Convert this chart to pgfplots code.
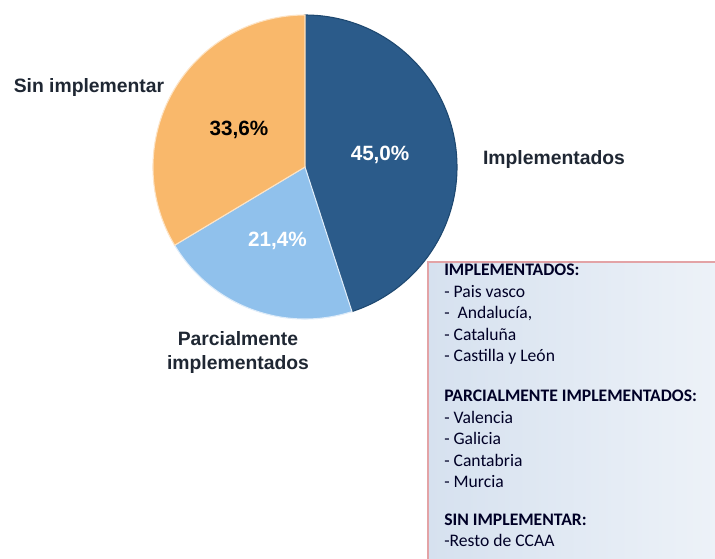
\documentclass[border=0pt]{standalone}
\usepackage{pgfplots}
\pgfplotsset{compat=1.18}
\usepackage{pgfplotstable}
\usetikzlibrary{calc}
\usepackage{fontspec}
\setmainfont{Liberation Sans}
\newfontfamily\calib{Carlito}
\definecolor{dblue}{HTML}{2B5B8A}
\definecolor{dblueedge}{HTML}{1E4870}
\definecolor{lblue}{HTML}{90C1EC}
\definecolor{orng}{HTML}{F9B86B}
\definecolor{lbltxt}{HTML}{1F2733}
\definecolor{boxleft}{HTML}{D6E1EF}
\definecolor{boxright}{HTML}{EDF2F8}
\definecolor{boxedge}{HTML}{E3A3A6}
\pgfplotstableread{
label value
Implementados 45.0
Parcialmente 21.4
Sin 33.6
}\piedata
\pgfplotstablegetelem{0}{value}\of\piedata \let\vA\pgfplotsretval
\pgfplotstablegetelem{1}{value}\of\piedata \let\vB\pgfplotsretval
\pgfplotstablegetelem{2}{value}\of\piedata \let\vC\pgfplotsretval
\pgfmathsetmacro\aA{90}
\pgfmathsetmacro\aB{\aA-3.6*\vA}
\pgfmathsetmacro\aC{\aB-3.6*\vB}
\pgfmathsetmacro\aD{\aC-3.6*\vC}
\pgfmathsetmacro\mA{(\aA+\aB)/2}
\pgfmathsetmacro\mB{(\aB+\aC)/2}
\pgfmathsetmacro\mC{(\aC+\aD)/2}
\def\R{114pt}
\begin{document}
\begin{tikzpicture}
\fill[white] (0,0) rectangle (536.25pt,418.5pt);
\begin{axis}[width=536.25pt,height=418.5pt,scale only axis,
  xmin=0,xmax=715,ymin=0,ymax=558,hide axis,clip=false]
% slices
\fill[dblue,draw=dblueedge,line width=0.8pt] (axis cs:305,391) -- ++(\aA:\R) arc[start angle=\aA,end angle=\aB,radius=\R] -- cycle;
\fill[lblue,draw=white!70!lblue,line width=0.8pt] (axis cs:305,391) -- ++(\aB:\R) arc[start angle=\aB,end angle=\aC,radius=\R] -- cycle;
\fill[orng,draw=white!60!orng,line width=0.8pt] (axis cs:305,391) -- ++(\aC:\R) arc[start angle=\aC,end angle=\aD,radius=\R] -- cycle;
% percentages
\node[white,font=\bfseries\fontsize{15.5}{18}\selectfont] at ($(axis cs:305,391)+(\mA:57pt)$) {45,0\%};
\node[white,font=\bfseries\fontsize{15.5}{18}\selectfont] at ($(axis cs:305,391)+(\mB:59pt)$) {21,4\%};
\node[black,font=\bfseries\fontsize{15.5}{18}\selectfont] at ($(axis cs:305,391)+(\mC:57pt)$) {33,6\%};
% category labels
\node[lbltxt,font=\bfseries\fontsize{14.5}{17.5}\selectfont] at (axis cs:554,398) {Implementados};
\node[lbltxt,font=\bfseries\fontsize{14.5}{17.5}\selectfont] at (axis cs:89,470) {Sin implementar};
\node[lbltxt,font=\bfseries\fontsize{14.5}{18}\selectfont,align=center] at (axis cs:238,205) {Parcialmente\\implementados};
% box
\shade[left color=boxleft,right color=boxright] (axis cs:428,296) rectangle (axis cs:718,-3);
\draw[boxedge,line width=0.8pt] (axis cs:428,296) rectangle (axis cs:718,-3);
\node[anchor=north west,align=left,text=black!85!blue,inner sep=0pt,
  font={\calib\fontsize{13.2}{16.1}\selectfont}] at (axis cs:444,294)
  {\textbf{IMPLEMENTADOS:}\\
   - Pais vasco\\
   -\ \ Andalucía,\\
   - Cataluña\\
   - Castilla y León\\[14pt]
   \textbf{PARCIALMENTE IMPLEMENTADOS:}\\
   - Valencia\\
   - Galicia\\
   - Cantabria\\
   - Murcia\\[12pt]
   \textbf{SIN IMPLEMENTAR:}\\
   -Resto de CCAA};
\end{axis}
\pgfresetboundingbox
\path (0,0) rectangle (536.25pt,418.5pt);
\end{tikzpicture}
\end{document}
